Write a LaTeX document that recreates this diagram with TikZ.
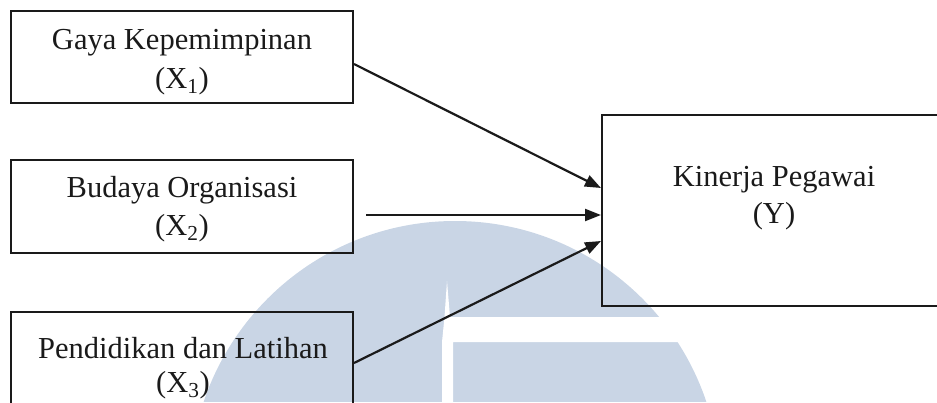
\documentclass[tikz,border=0pt]{standalone}
\usepackage{fontspec}
\setmainfont{Liberation Serif}
\usetikzlibrary{arrows.meta}
\definecolor{wm}{HTML}{C9D5E5}
\definecolor{ink}{HTML}{1A1A1A}
\tikzset{
  box/.style={draw=ink, line width=2pt, inner sep=0pt, fill=none},
  lbl/.style={inner sep=0pt, anchor=base, text=ink, font=\fontsize{30.5}{37}\selectfont},
  arr/.style={draw=ink, line width=2.2pt, -{Triangle[length=16pt,width=12pt]}}
}
\begin{document}
\begin{tikzpicture}[x=1pt,y=-1pt]
\useasboundingbox (0,0) rectangle (937,402);
\clip (0,0) rectangle (937,402);
% watermark
\begin{scope}
  \clip (455,486) circle (265);
  \fill[wm] (0,0) rectangle (937,402);
\end{scope}
\fill[white] (447,281) -- (450,317) -- (937,317) -- (937,342) -- (453,342) -- (453,402)
  -- (442,402) -- (442,342) -- (444.5,317) -- cycle;
% boxes
\node[box, minimum width=342pt, minimum height=92pt] (x1) at (182,57) {};
\node[box, minimum width=342pt, minimum height=93pt] (x2) at (182,206.5) {};
\node[box, minimum width=342pt, minimum height=94pt] (x3) at (182,359) {};
\node[box, minimum width=344pt, minimum height=191pt] (y) at (774,210.5) {};
% labels
\node[lbl] (x1a) at (182,49) {Gaya Kepemimpinan};
\node[lbl] (x1b) at (182,88) {(X\textsubscript{1})};
\node[lbl] (x2a) at (182,197.5) {Budaya Organisasi};
\node[lbl] (x2b) at (182,235) {(X\textsubscript{2})};
\node[lbl] (x3a) at (183,358) {Pendidikan dan Latihan};
\node[lbl] (x3b) at (183,392) {(X\textsubscript{3})};
\node[lbl] (ya) at (774,186.5) {Kinerja Pegawai};
\node[lbl] (yb) at (774,223.5) {(Y)};
% arrows
\draw[arr] ([yshift=-7pt]x1.east) -- ([yshift=22.5pt]y.west);
\draw[arr] ([xshift=12pt,yshift=-8.5pt]x2.east) -- ([yshift=-4.5pt]y.west);
\draw[arr] ([yshift=-4pt]x3.east) -- ([yshift=-30.5pt]y.west);
\end{tikzpicture}
\end{document}
